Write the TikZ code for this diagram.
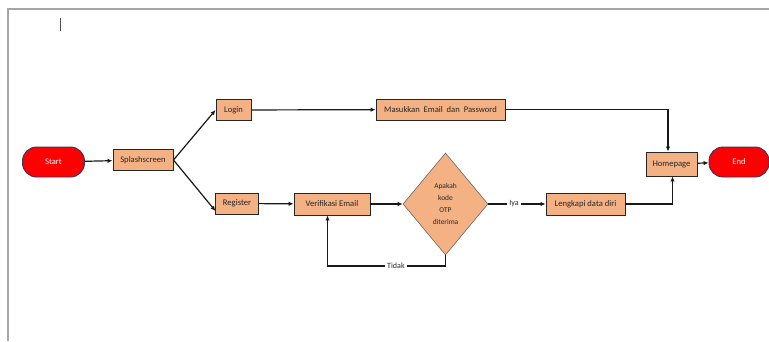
\documentclass[tikz,border=0pt]{standalone}
\usepackage{fontspec}
\setmainfont{Carlito}
\usetikzlibrary{shapes.geometric,arrows.meta,positioning}
\definecolor{boxfill}{HTML}{F4B183}
\definecolor{termred}{HTML}{FF0000}
\definecolor{termedge}{HTML}{2F3560}
\tikzset{
  procbox/.style={draw=black!85, fill=boxfill, line width=0.9pt, inner sep=0pt, font=\fontsize{8.6}{10}\selectfont, text=black!85},
  termbox/.style={draw=termedge, fill=termred, line width=0.9pt, rounded corners=14pt, inner sep=0pt, minimum width=62pt, minimum height=30pt, font=\fontsize{8.6}{10}\selectfont, text=white},
  decbox/.style={draw=black!60, fill=boxfill, diamond, aspect=0.83, inner sep=0pt, minimum width=85pt, minimum height=102pt, line width=0.6pt, align=center, font=\fontsize{7.4}{12}\selectfont, text=black!85},
  conn/.style={line width=1.2pt, black!90, -{Latex[length=5pt,width=4.5pt]}},
  lbl/.style={fill=white, inner sep=2.5pt, font=\fontsize{8}{9}\selectfont, text=black!85}
}
\begin{document}
\begin{tikzpicture}[x=1pt,y=-1pt]
\useasboundingbox (0,0) rectangle (769,341);
\fill[white] (0,0) rectangle (769,341);
% frame
\draw[gray!70, line width=1.6pt] (8,341) -- (8,9) -- (769,9);
\draw[black!70, line width=0.4pt] (60,18) -- (60,31);
% nodes
\node[termbox] (start) at (53.5,162) {Start};
\node[procbox, minimum width=60pt, minimum height=21pt] (splash) at (143,160) {Splashscreen};
\node[procbox, minimum width=35pt, minimum height=21pt] (login) at (233.5,110) {Login};
\node[procbox, minimum width=129pt, minimum height=21pt] (masuk) at (440.5,109.5) {Masukkan\ \ Email\ \ dan\ \ Password};
\node[procbox, minimum width=43pt, minimum height=21pt] (reg) at (237,203.5) {Register};
\node[procbox, minimum width=76pt, minimum height=22pt] (verif) at (332,204) {Verifikasi Email};
\node[decbox] (otp) at (445.5,204) {Apakah\\kode\\OTP\\diterima};
\node[procbox, minimum width=79pt, minimum height=22pt] (leng) at (585.5,204) {Lengkapi data diri};
\node[procbox, minimum width=51pt, minimum height=24pt] (home) at (671.5,164) {Homepage};
\node[termbox, minimum width=60pt] (end) at (739,162) {End};
% helper coordinates
\coordinate (regin) at (215.5,211);
\coordinate (loopc) at (445.5,266);
\coordinate (loopl) at (327.5,266);
\coordinate (toptc) at (668,109.5);
\coordinate (botc) at (672.5,204);
% connectors
\draw[conn] (start) -- (splash);
\draw[conn] (splash.east) -- (login.west);
\draw[conn] (splash.east) -- (regin);
\draw[conn] (login) -- (masuk);
\draw[conn] (masuk.east) -- (toptc) -- (home.north -| toptc);
\draw[conn] (reg) -- (verif);
\draw[conn] (verif) -- (otp);
\draw[conn] (otp.east) -- node[lbl, pos=0.45] {Iya} (leng.west);
\draw[conn] (leng.east) -- (botc) -- (home.south -| botc);
\draw[conn] (home) -- (end);
\draw[conn] (otp.south) -- (loopc) -- node[lbl, pos=0.42] {Tidak} (loopl) -- (verif.south -| loopl);
\end{tikzpicture}
\end{document}
